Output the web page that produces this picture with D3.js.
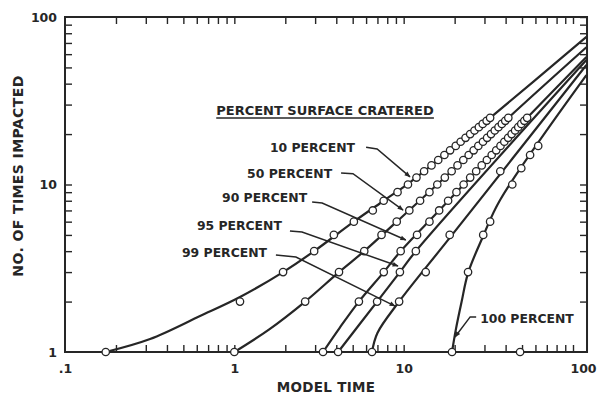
<!DOCTYPE html>
<html>
<head>
<meta charset="utf-8">
<script src="https://cdn.jsdelivr.net/npm/d3@7"></script>
<style>
body { margin: 0; background: #fff; }
svg text { font-family: "DejaVu Sans", sans-serif; font-weight: bold; fill: #262626; }
</style>
</head>
<body>
<svg id="chart" width="605" height="396"></svg>
<script>
//Data. Each point is [model time, no. of times impacted].

//Circles for each percent-cratered series.
const pts10 = [[0.174,1],[1.08,2],[1.94,3],[2.96,4],[3.87,5],[5.08,6],[6.57,7],[7.62,8],[9.2,9],[10.6,10],[11.9,11],[13.2,12],[14.6,13],[16.0,14],[17.4,15],[18.8,16],[20.3,17],[21.7,18],[23.2,19],[24.7,20],[26.2,21],[27.8,22],[29.3,23],[30.9,24],[32.4,25]];
const pts50 = [[1.0,1],[2.62,2],[4.15,3],[5.85,4],[7.4,5],[9.1,6],[10.8,7],[12.5,8],[14.2,9],[15.8,10],[17.5,11],[19.2,12],[20.8,13],[22.5,14],[24.2,15],[25.9,16],[27.6,17],[29.4,18],[31.1,19],[32.8,20],[34.5,21],[36.3,22],[38.0,23],[39.8,24],[41.5,25]];
const pts90 = [[3.34,1],[5.44,2],[7.63,3],[9.6,4],[12.0,5],[14.2,6],[16.2,7],[18.3,8],[20.5,9],[22.6,10],[24.7,11],[26.8,12],[28.9,13],[31.0,14],[33.1,15],[35.2,16],[37.3,17],[39.3,18],[41.4,19],[43.4,20],[45.5,21],[47.5,22],[49.5,23],[51.6,24],[53.6,25]];
const pts95 = [[4.1,1],[6.97,2],[9.5,3],[11.8,4]];
const pts99 = [[6.5,1],[9.4,2],[13.5,3],[18.7,5],[37.2,12]];
const pts100 = [[19.3,1],[24.0,3],[29.5,5],[32.4,6],[43.8,10],[49.5,12.5],[55.8,15],[62.3,17]];
const loosePts = [[48.7,1]];

//Smoothed curves drawn through (or near) the circles.
const curve10 = [[0.174,1],[0.318,1.196],[0.627,1.64],[1.08,2.13],[1.94,3.0],[2.96,4.0],[5.08,6.0],[7.62,8.0],[10.6,10.1],[18.8,16],[32.4,25],[120,76]];
const curve50 = [[1.0,1],[1.6,1.36],[2.62,2.0],[4.15,3.0],[5.85,4.0],[9.1,6.0],[15.8,10],[41.5,25],[120,66]];
const curve90 = [[3.34,1],[4.2,1.4],[5.44,2],[7.63,3],[9.6,4],[16.2,7],[53.6,25],[120,57.7]];
const curve95 = [[4.1,1],[6.97,2],[9.5,3],[11.8,4],[120,55.3]];
const curve99 = [[6.5,1],[7.0,1.3],[9.4,2],[18.7,4.8],[120,51.7]];
const curve100 = [[19.3,1],[20.3,1.35],[22.0,2.0],[24.0,2.96],[29.5,4.93],[37.1,8.08],[120,45]];

//Series labels, where each label ends (text baseline) and its leader line.
const labelNames = ["10 PERCENT", "50 PERCENT", "90 PERCENT", "95 PERCENT", "99 PERCENT"];
const labelEnds = [[5.16,15.6],[3.78,10.9],[2.69,7.86],[1.91,5.35],[1.56,3.69]];
const leaders = [
    [[6.0,16.7],[6.97,16.3],[10.9,11.1]],
    [[4.27,11.7],[5.02,11.6],[9.92,7.04]],
    [[2.88,7.86],[3.30,7.76],[10.3,4.66]],
    [[2.13,5.28],[2.51,5.20],[9.26,3.26]],
    [[1.76,3.79],[2.31,3.69],[8.89,1.88]]
];
const label100 = "100 PERCENT";
const label100Start = [28.3,1.49];
const leader100 = [[26.8,1.62],[24.7,1.62],[20.1,1.23]];
const legendTitle = "PERCENT SURFACE CRATERED";
const legendTitlePos = [3.43,26.0];

//Ticks.
const xTicks = [0.2,0.3,0.4,0.5,0.6,0.7,0.8,0.9,1,2,3,4,5,6,7,8,9,10,20,30,40,50,60,70,80,90,100];
const xTickLabels = {0.1: ".1", 1: "1", 10: "10", 100: "100"};
const yTicks = [2,3,4,5,6,7,8,9,10,20,30,40,50,60,70,80,90];
const yTickLabels = {1: "1", 10: "10", 100: "100"};
const xFrameMax = 121;

const ink = "#262626";

const svg = d3.select("#chart");

const x = d3.scaleLog().domain([0.1, 100]).range([65, 573]);
const y = d3.scaleLog().domain([1, 100]).range([352, 17]);

const plotLeft = x(0.1), plotRight = x(xFrameMax), plotTop = y(100), plotBottom = y(1);

//Arrow head for the label leaders.
svg.append("defs").append("marker")
    .attr("id", "arrow")
    .attr("viewBox", "0 0 10 10")
    .attr("refX", 9).attr("refY", 5)
    .attr("markerUnits", "userSpaceOnUse")
    .attr("markerWidth", 7).attr("markerHeight", 6)
    .attr("orient", "auto")
    .append("path").attr("d", "M0,1L10,5L0,9Z").attr("fill", ink);

//Axes, ticks pointing inward on all four sides.
const xb = svg.append("g").attr("transform", "translate(0," + plotBottom + ")")
    .call(d3.axisBottom(x).tickValues([0.1].concat(xTicks)).tickSize(-7).tickFormat(d => xTickLabels[d] || ""));
xb.selectAll("text").attr("y", 21).attr("dy", 0).attr("font-size", 12.5);
xb.selectAll(".tick").filter(d => d === 0.1).select("line").remove();
xb.selectAll(".tick").filter(d => d === 100).select("text").attr("dx", 10);

const yl = svg.append("g").attr("transform", "translate(" + plotLeft + ",0)")
    .call(d3.axisLeft(y).tickValues([1].concat(yTicks).concat([100])).tickSize(-7).tickPadding(8).tickFormat(d => yTickLabels[d] || ""));
yl.selectAll("text").attr("font-size", 12.5);
yl.selectAll(".tick").filter(d => d === 1 || d === 100).select("line").remove();

svg.append("g").attr("transform", "translate(0," + plotTop + ")")
    .call(d3.axisTop(x).tickValues(xTicks).tickSize(-7).tickFormat(""));

svg.append("g").attr("transform", "translate(" + plotRight + ",0)")
    .call(d3.axisRight(y).tickValues(yTicks.concat([100])).tickSize(-7).tickFormat(""));

svg.selectAll(".domain").remove();
svg.selectAll(".tick line").attr("stroke", ink).attr("stroke-width", 1.4);

svg.append("rect")
    .attr("x", plotLeft).attr("y", plotTop)
    .attr("width", plotRight - plotLeft).attr("height", plotBottom - plotTop)
    .attr("fill", "none").attr("stroke", ink).attr("stroke-width", 2);

//Axis titles.
svg.append("text")
    .attr("x", (plotLeft + plotRight) / 2).attr("y", 392)
    .attr("text-anchor", "middle").attr("font-size", 13.5).attr("letter-spacing", 0.3)
    .text("MODEL TIME");

svg.append("text")
    .attr("transform", "translate(23," + 176 + ") rotate(-90)")
    .attr("text-anchor", "middle").attr("font-size", 14).attr("letter-spacing", 0.4)
    .text("NO. OF TIMES IMPACTED");

//Curves.
const line = d3.line().x(d => x(d[0])).y(d => y(d[1])).curve(d3.curveCatmullRom.alpha(0.5));
const curves = [curve10, curve50, curve90, curve95, curve99, curve100];

svg.append("g").selectAll("path")
    .data(curves)
    .enter()
    .append("path")
    .attr("d", line)
    .attr("fill", "none")
    .attr("stroke", ink)
    .attr("stroke-width", 2.2);

//Circles.
const allPts = [].concat(pts10, pts50, pts90, pts95, pts99, pts100, loosePts);
svg.append("g").selectAll("circle")
    .data(allPts)
    .enter()
    .append("circle")
    .attr("cx", d => x(d[0]))
    .attr("cy", d => y(d[1]))
    .attr("r", 3.7)
    .attr("fill", "#fff")
    .attr("stroke", ink)
    .attr("stroke-width", 1.3);

//Legend title with underline.
const title = svg.append("text")
    .attr("x", x(legendTitlePos[0])).attr("y", y(legendTitlePos[1]))
    .attr("text-anchor", "middle").attr("font-size", 13)
    .text(legendTitle);
const tb = title.node().getBBox();
svg.append("line")
    .attr("x1", tb.x).attr("x2", tb.x + tb.width)
    .attr("y1", y(legendTitlePos[1]) + 3).attr("y2", y(legendTitlePos[1]) + 3)
    .attr("stroke", ink).attr("stroke-width", 1.6);

//Series labels and leaders.
const straight = d3.line().x(d => x(d[0])).y(d => y(d[1]));

svg.append("g").selectAll("text")
    .data(labelNames)
    .enter()
    .append("text")
    .attr("x", (d, i) => x(labelEnds[i][0]))
    .attr("y", (d, i) => y(labelEnds[i][1]))
    .attr("text-anchor", "end")
    .attr("font-size", 12.4)
    .text(d => d);

svg.append("g").selectAll("path")
    .data(leaders.concat([leader100]))
    .enter()
    .append("path")
    .attr("d", straight)
    .attr("fill", "none")
    .attr("stroke", ink)
    .attr("stroke-width", 1.5)
    .attr("marker-end", "url(#arrow)");

svg.append("text")
    .attr("x", x(label100Start[0])).attr("y", y(label100Start[1]))
    .attr("font-size", 12.4)
    .text(label100);
</script>
</body>
</html>
